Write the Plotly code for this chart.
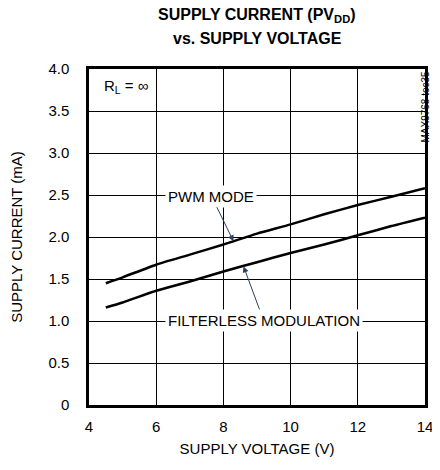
import plotly.graph_objects as go

voltage = [4.5, 5, 6, 7, 8, 9, 10, 11, 12, 13, 14]
pwm_mode = [1.45, 1.52, 1.67, 1.79, 1.91, 2.04, 2.15, 2.27, 2.38, 2.48, 2.58]
filterless = [1.16, 1.22, 1.36, 1.47, 1.59, 1.70, 1.81, 1.91, 2.02, 2.13, 2.23]
y_ticks = [0, 0.5, 1.0, 1.5, 2.0, 2.5, 3.0, 3.5, 4.0]
y_ticktext = ["0", "0.5", "1.0", "1.5", "2.0", "2.5", "3.0", "3.5", "4.0"]
x_ticks = [4, 6, 8, 10, 12, 14]

FONT = "Liberation Sans Narrow, Arial Narrow, Liberation Sans, Arial, sans-serif"

fig = go.Figure()
fig.add_trace(go.Scatter(x=voltage, y=pwm_mode, mode="lines",
                         line=dict(color="black", width=2.5, shape="spline", smoothing=0.6),
                         name="PWM MODE"))
fig.add_trace(go.Scatter(x=voltage, y=filterless, mode="lines",
                         line=dict(color="black", width=2.5, shape="spline", smoothing=0.6),
                         name="FILTERLESS MODULATION"))

# page has an 8px body margin, so the figure is 432x462 placed at (8, 8)
fig.update_layout(
    width=432, height=462,
    margin=dict(l=81, r=15, t=61, b=65),
    paper_bgcolor="white", plot_bgcolor="white",
    showlegend=False,
    font=dict(family=FONT, size=14, color="black"),
    xaxis=dict(range=[4, 14], tickvals=x_ticks, showgrid=True, gridcolor="black", gridwidth=1,
               showline=True, mirror=True, linecolor="black", linewidth=2.5,
               ticks="", zeroline=False, automargin=False, ticklabelstandoff=6,
               tickfont=dict(size=15),
               title=dict(text="SUPPLY VOLTAGE (V)", standoff=10, font=dict(size=15))),
    yaxis=dict(range=[0, 4], tickvals=y_ticks, ticktext=y_ticktext, showgrid=True,
               gridcolor="black", gridwidth=1,
               showline=True, mirror=True, linecolor="black", linewidth=2.5,
               ticks="", zeroline=False, automargin=False, ticklabelstandoff=14,
               tickfont=dict(size=15),
               title=dict(text="SUPPLY CURRENT (mA)", standoff=30, font=dict(size=15))),
)

# title lines
fig.add_annotation(x=0.5, y=1, xref="paper", yref="paper", yshift=54, yanchor="middle",
                   text="<b>SUPPLY CURRENT (PV<sub>DD</sub>)</b>", showarrow=False,
                   font=dict(size=16))
fig.add_annotation(x=0.5, y=1, xref="paper", yref="paper", yshift=31, yanchor="middle",
                   text="<b>vs. SUPPLY VOLTAGE</b>", showarrow=False,
                   font=dict(size=16))

fig.add_annotation(x=8.3, y=1.95, xref="x", yref="y", text="PWM MODE",
                   showarrow=True, arrowhead=2, arrowsize=1.2, arrowwidth=1,
                   ax=-22, ay=-45, bgcolor="white", borderpad=2,
                   font=dict(size=15))
fig.add_annotation(x=8.6, y=1.65, xref="x", yref="y", text="FILTERLESS MODULATION",
                   showarrow=True, arrowhead=2, arrowsize=1.2, arrowwidth=1,
                   ax=20, ay=54, bgcolor="white", borderpad=2,
                   font=dict(size=15))
fig.add_annotation(x=4.35, y=3.79, xref="x", yref="y", xanchor="left",
                   text="R<sub>L</sub> = ∞", showarrow=False, bgcolor="white",
                   borderpad=2, font=dict(size=15))
fig.add_annotation(x=1.0, y=1.0, xref="paper", yref="paper",
                   xshift=7, text="MAX9768 toc35", textangle=-90,
                   showarrow=False, font=dict(size=10))

fig.write_html("out.html")
